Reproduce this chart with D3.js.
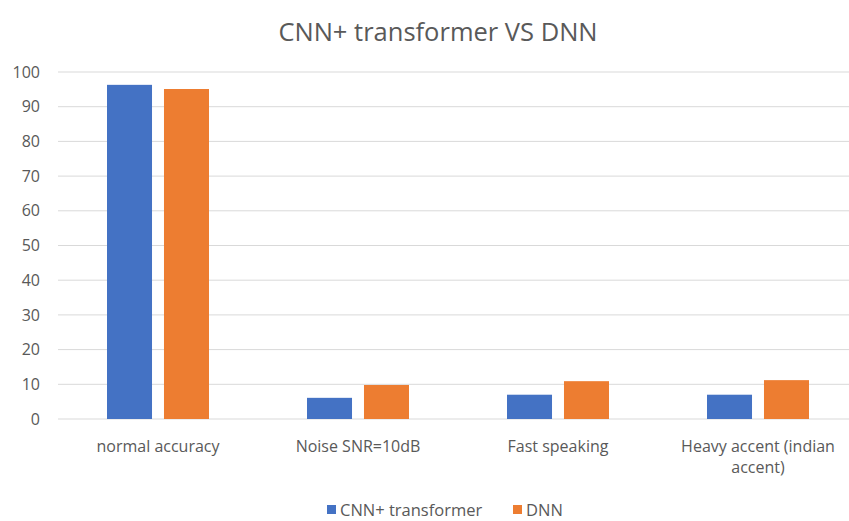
<!DOCTYPE html>
<html>
  <head>
    <title>CNN+ transformer VS DNN</title>
    <style>
      body,
      html {
        margin: 0;
        padding: 0;
        background: #fff;
      }
      text {
        font-family: 'Open Sans', sans-serif;
        fill: #595959;
      }
    </style>
  </head>
  <body>
    <script src="https://cdn.jsdelivr.net/npm/d3@7"></script>
    <script>
      const categories = [
        'normal accuracy',
        'Noise SNR=10dB',
        'Fast speaking',
        'Heavy accent (indian accent)'
      ];
      const seriesNames = ['CNN+ transformer', 'DNN'];
      const cnnValues = [96.3, 6.1, 7.0, 7.0];
      const dnnValues = [95.1, 9.8, 10.9, 11.2];
      const yTicks = [0, 10, 20, 30, 40, 50, 60, 70, 80, 90, 100];
      const colors = ['#4472c4', '#ed7d31'];

      const width = 849;
      const height = 521;
      const svg = d3
        .select('body')
        .append('svg')
        .attr('width', width)
        .attr('height', height);

      const x0 = d3.scaleBand().domain(categories).range([58, 858]).paddingInner(0.49).paddingOuter(0.245);
      const x1 = d3.scaleBand().domain(seriesNames).range([0, x0.bandwidth()]).paddingInner(0.21);
      const y = d3.scaleLinear().domain([0, 100]).range([419, 72]);

      svg
        .append('text')
        .attr('x', 438)
        .attr('y', 41)
        .attr('text-anchor', 'middle')
        .style('font-size', '25.5px')
        .text('CNN+ transformer VS DNN');

      // gridlines
      svg
        .append('g')
        .selectAll('line')
        .data(yTicks)
        .enter()
        .append('line')
        .attr('x1', 58)
        .attr('x2', 858)
        .attr('y1', (d) => y(d))
        .attr('y2', (d) => y(d))
        .attr('stroke', '#d9d9d9')
        .attr('stroke-width', 1);

      const yAxis = svg
        .append('g')
        .attr('transform', 'translate(40,0)')
        .call(d3.axisLeft(y).tickValues(yTicks).tickSize(0).tickPadding(0));
      yAxis.select('.domain').remove();
      yAxis.selectAll('text').style('font-size', '16px').attr('fill', '#595959').style('font-family', "'Open Sans', sans-serif");

      const rows = categories.map((c, i) => ({ cat: c, vals: [cnnValues[i], dnnValues[i]] }));

      const groups = svg
        .append('g')
        .selectAll('g')
        .data(rows)
        .enter()
        .append('g')
        .attr('transform', (d) => `translate(${x0(d.cat)},0)`);

      groups
        .selectAll('rect')
        .data((d) => d.vals.map((v, j) => ({ name: seriesNames[j], v: v, j: j })))
        .enter()
        .append('rect')
        .attr('x', (d) => x1(d.name))
        .attr('width', x1.bandwidth())
        .attr('y', (d) => y(d.v))
        .attr('height', (d) => y(0) - y(d.v))
        .attr('fill', (d) => colors[d.j]);

      // category labels, wrapped
      const xAxis = svg
        .append('g')
        .attr('transform', 'translate(0,419)')
        .call(d3.axisBottom(x0).tickSize(0).tickPadding(0));
      xAxis.select('.domain').remove();
      xAxis
        .selectAll('text')
        .style('font-size', '16px')
        .style('font-family', "'Open Sans', sans-serif")
        .attr('fill', '#595959')
        .each(function (d) {
          const t = d3.select(this);
          const words = d.split(' ');
          t.text(null).attr('dy', null);
          let line = [];
          let lineNo = 0;
          let ts = t.append('tspan').attr('x', 0).attr('y', 33);
          words.forEach((w) => {
            line.push(w);
            ts.text(line.join(' '));
            if (ts.node().getComputedTextLength() > 175 && line.length > 1) {
              line.pop();
              ts.text(line.join(' '));
              line = [w];
              lineNo++;
              ts = t.append('tspan').attr('x', 0).attr('y', 33 + lineNo * 21).text(w);
            }
          });
        });

      // legend
      const legend = svg.append('g');
      const legendX = [327, 513];
      seriesNames.forEach((s, i) => {
        legend
          .append('rect')
          .attr('x', legendX[i])
          .attr('y', 505)
          .attr('width', 9)
          .attr('height', 9)
          .attr('fill', colors[i]);
        legend
          .append('text')
          .attr('x', legendX[i] + 13)
          .attr('y', 516)
          .style('font-size', '16.5px')
          .text(s);
      });
    </script>
  </body>
</html>
